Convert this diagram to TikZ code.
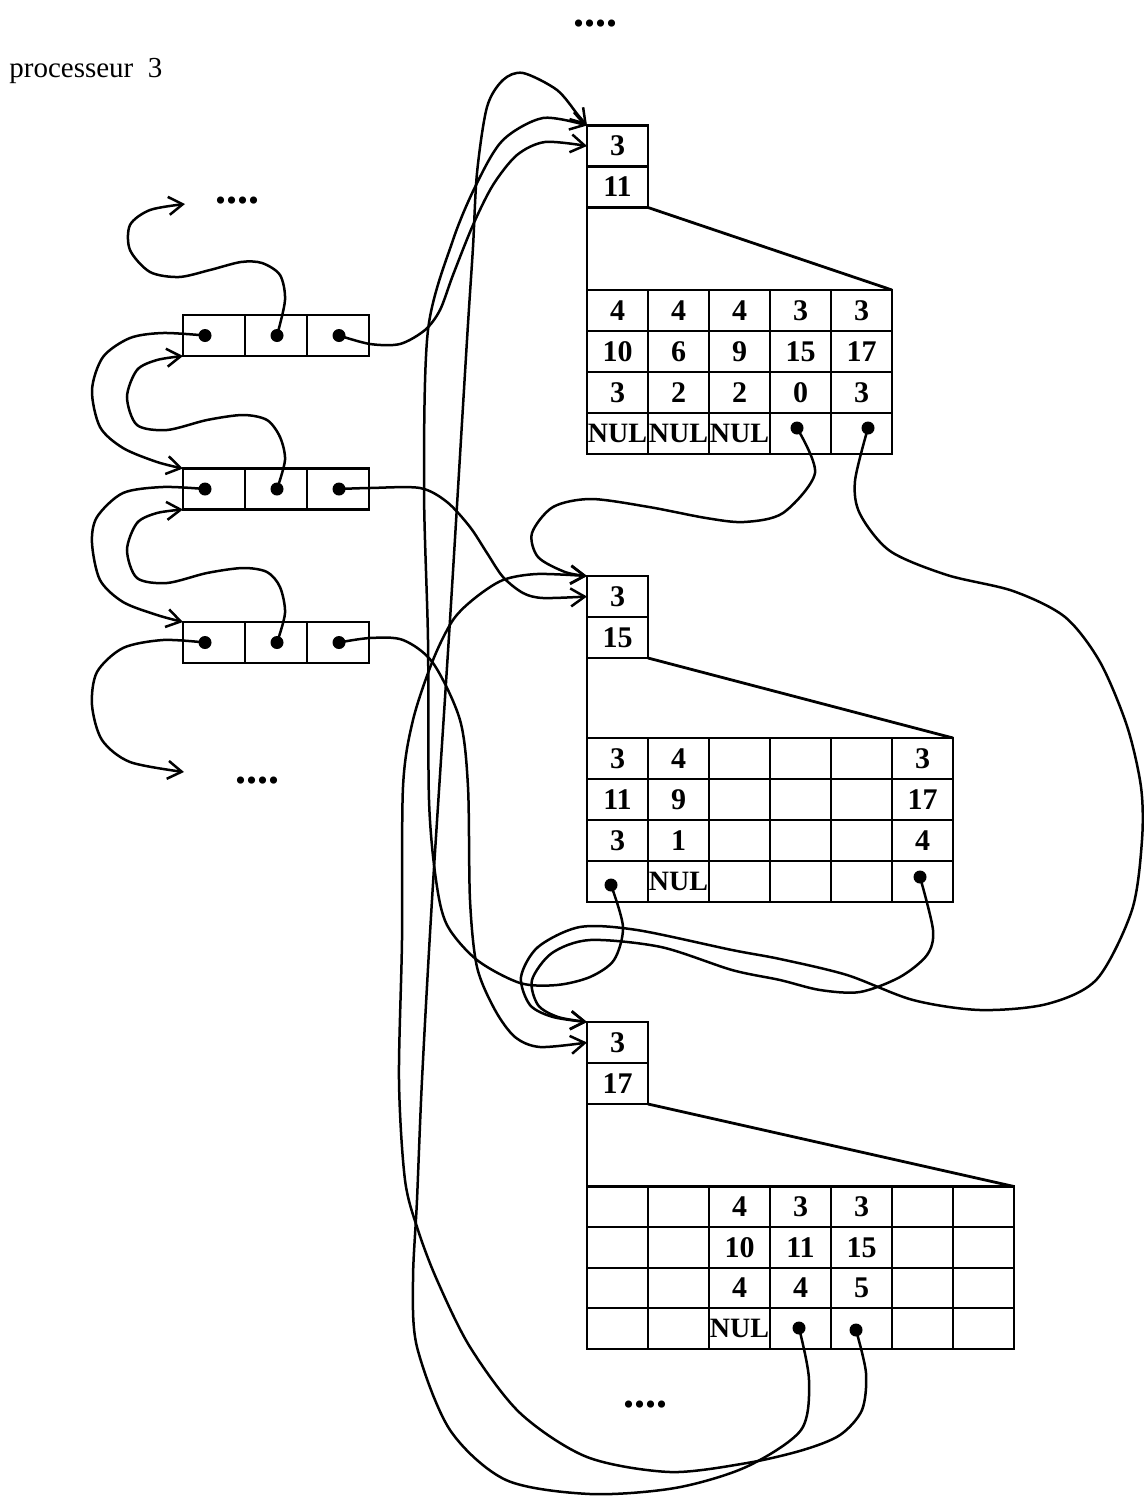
\documentclass[tikz,border=0pt]{standalone}
\usepackage{fontspec}
\setmainfont{Liberation Serif}
\usetikzlibrary{arrows.meta,positioning}
\newcommand{\nullab}{{\fontsize{14}{14}\selectfont NUL}}

\begin{document}
\begin{tikzpicture}[
  x=0.5pt, y=-0.5pt,
  cell/.style={draw, line width=0.8pt, minimum width=30.5pt, minimum height=20.5pt,
               inner sep=0pt, outer sep=0pt, font=\fontsize{15}{15}\selectfont\bfseries},
  hdr/.style={cell, line width=1.3pt},
  slot/.style={draw, line width=1.3pt, minimum width=31pt, minimum height=20.5pt,
               inner sep=0pt, outer sep=0pt},
  frame/.style={line width=1.4pt},
  ptr/.style={circle, fill, inner sep=0pt, minimum size=6.5pt},
  link/.style={line width=1.25pt, -{Straight Barb[length=7pt,width=9pt]}},
  etc/.style={font=\fontsize{22}{22}\selectfont\bfseries}
]
  \useasboundingbox (0,0) rectangle (1144,1499);

  \node[anchor=base west, inner sep=0pt, font=\fontsize{14.5}{14.5}\selectfont] (proc) at (9,77) {processeur\ \ 3};
  \node[etc] (etctop) at (595,24) {....};
  \node[etc] (etcprev) at (237,201) {....};
  \node[etc] (etcnext) at (257,781) {....};
  \node[etc] (etcbot) at (645,1405) {....};
  \coordinate (qprev) at (185,204);
  \coordinate (qnext) at (184,772);

  % liste des processus
  \foreach \n/\y in {1/335.5, 2/489, 3/642.5} {
    \node[slot] (l\n a) at (214,\y) {};
    \node[slot] (l\n b) at (276,\y) {};
    \node[slot] (l\n c) at (338,\y) {};
    \node[ptr] (p\n a) at (205,\y) {};
    \node[ptr] (p\n b) at (277,\y) {};
    \node[ptr] (p\n c) at (339,\y) {};
  }

  % enregistrement 11
  \node[hdr] (r11a) at (617.5,146) {3};
  \node[hdr, below=0pt of r11a] (r11b) {11};
  \foreach \row [count=\r] in {{4,4,4,3,3},{10,6,9,15,17},{3,2,2,0,3},{\nullab,\nullab,\nullab,{},{}}}
    \foreach \v [count=\c] in \row
      \node[cell] (t11-\r-\c) at ({617.5+61*(\c-1)},{310.5+41*(\r-1)}) {\v};
  \draw[frame] (t11-1-1.north west) rectangle (t11-4-5.south east);
  \draw[frame] (r11b.south west) -- (t11-1-1.north west);
  \draw[frame] (r11b.south east) -- (t11-1-5.north east);
  \node[ptr] (d11-4) at (797,428) {};
  \node[ptr] (d11-5) at (868,428) {};

  % enregistrement 15
  \node[hdr] (r15a) at (617.5,596.5) {3};
  \node[hdr, below=0pt of r15a] (r15b) {15};
  \foreach \row [count=\r] in {{3,4,{},{},{},3},{11,9,{},{},{},17},{3,1,{},{},{},4},{{},\nullab,{},{},{},{}}}
    \foreach \v [count=\c] in \row
      \node[cell] (t15-\r-\c) at ({617.5+61*(\c-1)},{758.5+41*(\r-1)}) {\v};
  \draw[frame] (t15-1-1.north west) rectangle (t15-4-6.south east);
  \draw[frame] (r15b.south west) -- (t15-1-1.north west);
  \draw[frame] (r15b.south east) -- (t15-1-6.north east);
  \node[ptr] (d15-1) at (611,885) {};
  \node[ptr] (d15-6) at (920,877) {};

  % enregistrement 17
  \node[hdr] (r17a) at (617.5,1042.5) {3};
  \node[hdr, below=0pt of r17a] (r17b) {17};
  \foreach \row [count=\r] in {{{},{},4,3,3,{},{}},{{},{},10,11,15,{},{}},{{},{},4,4,5,{},{}},{{},{},\nullab,{},{},{},{}}}
    \foreach \v [count=\c] in \row
      \node[cell] (t17-\r-\c) at ({617.5+61*(\c-1)},{1207+40.5*(\r-1)}) {\v};
  \draw[frame] (t17-1-1.north west) rectangle (t17-4-7.south east);
  \draw[frame] (r17b.south west) -- (t17-1-1.north west);
  \draw[frame] (r17b.south east) -- (t17-1-7.north east);
  \node[ptr] (d17-4) at (799,1328) {};
  \node[ptr] (d17-5) at (856,1330) {};

  % chainage de la liste
  \draw[link] plot[smooth] coordinates {(p1a.center) (163,333) (130,338) (103,357) (92,390) (100,427) (123,448) (157,462) (l2a.north west)};
  \draw[link] plot[smooth] coordinates {(p2a.center) (163,487) (123,493) (97,517) (92,543) (100,580) (123,602) (157,615) (l3a.north west)};
  \draw[link] plot[smooth] coordinates {(p3a.center) (163,640) (123,648) (97,672) (92,705) (102,740) (130,762) (qnext)};
  \draw[link] plot[smooth] coordinates {(p1b.center) (285,300) (280,275) (262,263) (241,262) (210,270) (179,277) (150,272) (130,250) (130,225) (150,210) (qprev)};
  \draw[link] plot[smooth] coordinates {(p2b.center) (285,460) (280,437) (267,420) (243,415) (207,420) (167,430) (137,425) (127,397) (137,370) (157,360) (l1a.south west)};
  \draw[link] plot[smooth] coordinates {(p3b.center) (285,613) (280,587) (267,572) (243,568) (207,573) (167,583) (137,578) (127,550) (137,523) (157,513) (l2a.south west)};

  % liste -> enregistrements
  \draw[link] plot[smooth] coordinates {(p1c.center) (370,344) (400,344) (425,330) (440,310) (453,275) (473,225) (493,185) (517,155) (545,142) (r11a.west)};
  \draw[link] plot[smooth] coordinates {(p2c.center) (370,488) (420,488) (447,502) (470,527) (487,553) (503,577) (523,593) (543,598) (r15a.west)};
  \draw[link] plot[smooth] coordinates {(p3c.center) (370,638) (403,640) (433,663) (460,720) (468,787) (470,900) (477,967) (495,1010) (515,1037) (540,1047) (r17a.west)};

  % enregistrements entre eux
  \draw[link] plot[smooth] coordinates {(d11-4.center) (815,473) (783,513) (744,522) (706,518) (649,507) (591,499) (553,507) (532,533) (538,557) (565,572) (r15a.north west)};
  \draw[link] plot[smooth] coordinates {(d11-5.center) (855,481) (860,514) (890,551) (947,575) (1013,591) (1065,617) (1100,662) (1127,726) (1141,787) (1142,840) (1132,910) (1097,979) (1047,1004) (980,1010) (913,1000) (847,975) (780,959) (732,950) (637,930) (580,927) (538,947) (521,977) (530,1005) (553,1017) (r17a.north west)};
  \draw[link] plot[smooth] coordinates {(d15-6.center) (933,930) (927,955) (900,977) (860,992) (820,990) (780,980) (732,970) (661,947) (590,940) (552,953) (532,980) (538,1005) (558,1017) (r17a.north west)};
  \draw[link] plot[smooth] coordinates {(d15-1.center) (623,927) (614,960) (590,977) (557,985) (520,983) (477,960) (447,925) (436,880) (429,800) (428,640) (424,487) (428,330) (453,240) (477,183) (503,140) (543,118) (r11a.north west)};
  \draw[link] plot[smooth] coordinates {(d17-4.center) (809,1380) (801,1430) (746,1467) (675,1488) (590,1494) (506,1480) (450,1430) (417,1347) (413,1280) (417,1200) (422,1080) (432,900) (450,620) (467,340) (473,247) (477,173) (487,107) (503,80) (523,73) (557,90) (578,115) (r11a.north west)};
  \draw[link] plot[smooth] coordinates {(d17-5.center) (866,1373) (862,1410) (840,1435) (803,1450) (747,1463) (670,1472) (587,1457) (520,1413) (470,1347) (437,1280) (418,1230) (405,1180) (399,1080) (402,940) (403,787) (413,720) (433,660) (453,620) (475,598) (503,580) (537,574) (r15a.north west)};
\end{tikzpicture}
\end{document}
